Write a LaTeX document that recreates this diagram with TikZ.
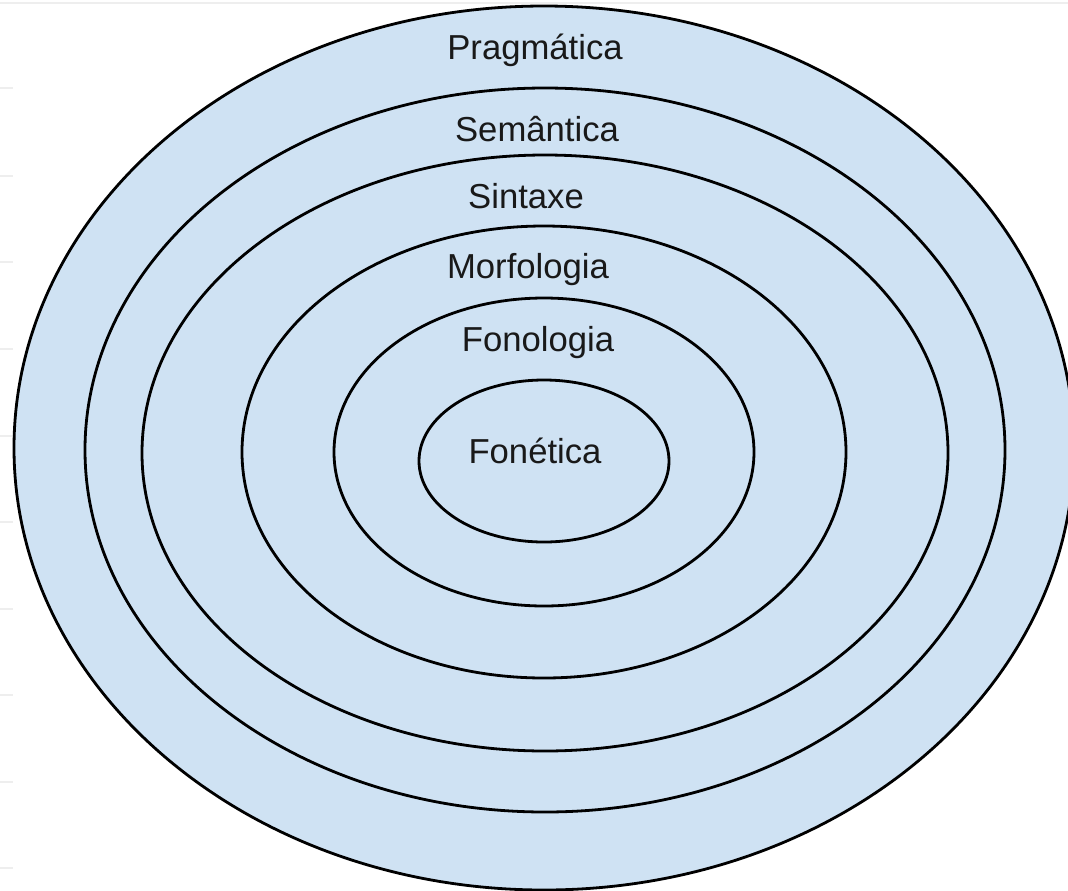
\documentclass[tikz,border=0pt]{standalone}
\usepackage{fontspec}
\setmainfont{Liberation Sans}
\definecolor{fillblue}{HTML}{CFE2F3}
\definecolor{rule}{HTML}{EEEEEE}
\begin{document}
\begin{tikzpicture}[x=0.75pt,y=-0.75pt,
  ring/.style={draw=black, fill=fillblue, line width=2.1pt},
  lbl/.style={font=\fontsize{26}{31}\selectfont, text=black!90, anchor=base, inner sep=0pt},
  tick/.style={draw=rule, line width=1.5pt}]
\useasboundingbox (0,0) rectangle (1068,890);
\fill[white] (0,0) rectangle (1068,890);
% page rules of the screenshot
\draw[tick, line width=2.2pt] (0,3) -- (1068,3);
\foreach \yy in {88,176,262,349,436,522,609,695,782,868}
  \draw[tick] (0,\yy) -- (13,\yy);
\begin{scope}
\clip (0,0) rectangle (1068,890);
\draw[ring] (544,448) ellipse [x radius=530, y radius=442];
\draw[ring] (545,450) ellipse [x radius=460, y radius=362];
\draw[ring] (545,453) ellipse [x radius=403, y radius=298];
\draw[ring] (544,452) ellipse [x radius=302, y radius=226];
\draw[ring] (544,452) ellipse [x radius=210, y radius=154];
\draw[ring] (544,461) ellipse [x radius=125, y radius=81];
\end{scope}
\node[lbl] (prag) at (535,59) {Pragmática};
\node[lbl] (sem) at (537,141) {Semântica};
\node[lbl] (sin) at (526,208) {Sintaxe};
\node[lbl] (mor) at (528,278) {Morfologia};
\node[lbl] (fonol) at (538,351) {Fonologia};
\node[lbl] (fonet) at (535,463) {Fonética};
\end{tikzpicture}
\end{document}
